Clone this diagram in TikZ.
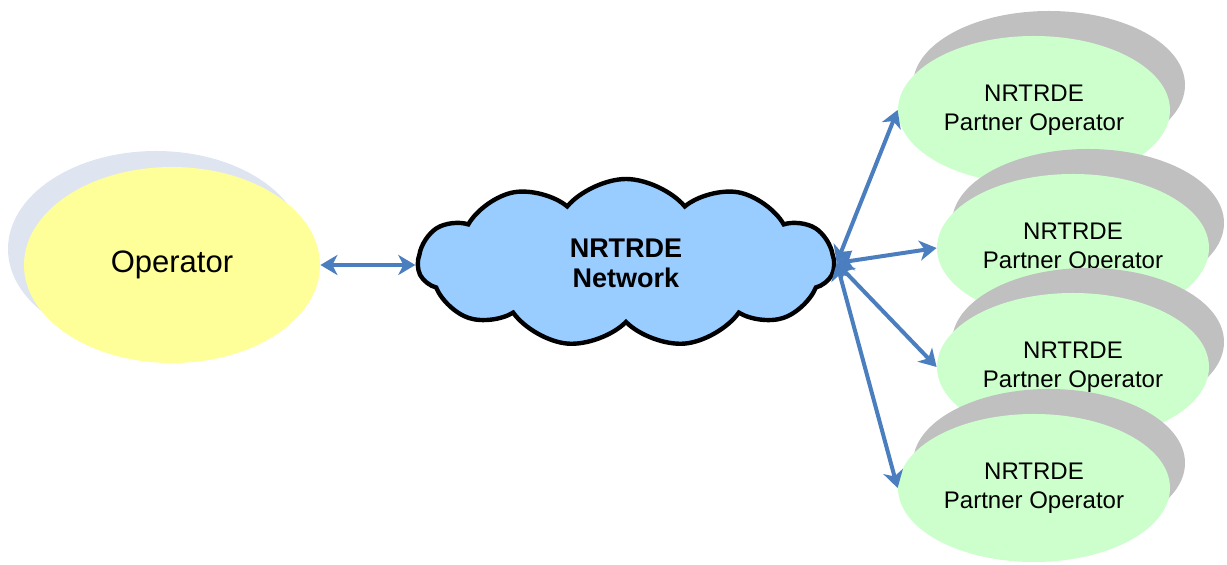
\documentclass[tikz,border=0pt]{standalone}
\usepackage{fontspec}
\setmainfont{Liberation Sans}
\usepackage{tikz}
\usepackage{xcolor}
\usetikzlibrary{shapes.geometric, shapes.symbols, shadows, arrows.meta, positioning, calc}

\definecolor{opyellow}{HTML}{FFFF99}
\definecolor{opshade}{HTML}{DEE5F0}
\definecolor{netblue}{HTML}{99CCFF}
\definecolor{partgreen}{HTML}{CCFFCC}
\definecolor{partshade}{HTML}{C0C0C0}
\definecolor{linkblue}{HTML}{4A7EBF}

\begin{document}
\begin{tikzpicture}[x=0.5pt, y=-0.5pt,
    operator/.style={ellipse, fill=opyellow, minimum width=148pt, minimum height=98pt, inner sep=0pt, font=\fontsize{15.5pt}{18pt}\selectfont,
        drop shadow={shadow xshift=-8pt, shadow yshift=8pt, fill=opshade, opacity=1}},
    network/.style={cloud, cloud puffs=11, cloud puff arc=100, aspect=2.5, draw=black, line width=2.2pt, fill=netblue, minimum width=208pt, minimum height=84pt, inner sep=0pt, align=center, font=\fontsize{13.5pt}{15pt}\selectfont\bfseries},
    partner/.style={ellipse, fill=partgreen, minimum width=136pt, minimum height=74pt, inner sep=0pt, align=center, font=\fontsize{12pt}{14.5pt}\selectfont,
        drop shadow={shadow xshift=7.5pt, shadow yshift=12.5pt, fill=partshade, opacity=1}},
    link/.style={{Stealth[length=8.5pt, width=10pt, inset=2.5pt]}-{Stealth[length=8.5pt, width=10pt, inset=2.5pt]}, line width=2pt, draw=linkblue}
]
    \useasboundingbox (0,0) rectangle (1227,565);

    % Home operator and the network
    \node[operator] (op) at (172, 265) {Operator};
    \node[network] (net) at (626, 263) {NRTRDE\\Network};

    % Partner operators
    \node[partner] (p1) at (1034, 110) {NRTRDE\\Partner Operator};
    \node[partner] (p2) at (1073, 248) {NRTRDE\\Partner Operator};
    \node[partner] (p3) at (1073, 367) {NRTRDE\\Partner Operator};
    \node[partner] (p4) at (1034, 488) {NRTRDE\\Partner Operator};

    % Links
    \draw[link] (op.east) -- (op.east -| net.west);
    \draw[link] (net.east) -- (p1.west);
    \draw[link] (net.east) -- (p2.west);
    \draw[link] (net.east) -- (p3.west);
    \draw[link] (net.east) -- (p4.west);

\end{tikzpicture}
\end{document}
